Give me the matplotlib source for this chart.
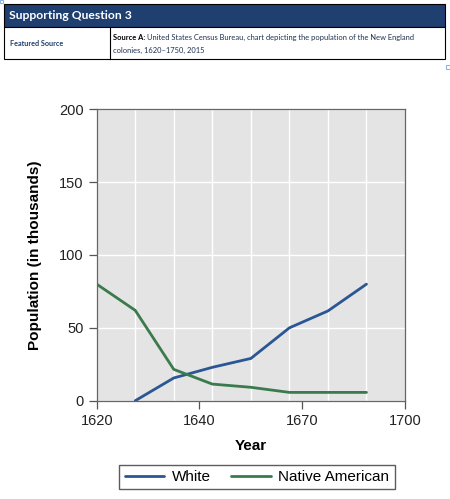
import matplotlib.pyplot as plt
import numpy as np
from matplotlib.patches import Rectangle

# data
years = [1620, 1630, 1640, 1650, 1660, 1670, 1680, 1690]
white = [np.nan, 0, 15.6, 22.9, 29, 50, 61.6, 80]
native = [80, 62, 21.5, 11.4, 9.2, 5.7, 5.7, 5.7]
tick_labels = ['1620', '1640', '1670', '1700']
y_ticks = [0, 50, 100, 150, 200]

header_title = 'Supporting Question 3'
row_label = 'Featured Source'
source_bold = 'Source A:'
source_text_1 = 'United States Census Bureau, chart depicting the population of the New England'
source_text_2 = 'colonies, 1620\u20131750, 2015'

navy = '#1e3f6f'
blue = '#2a5694'
green = '#3b7a4c'

W, H = 450, 499
fig = plt.figure(figsize=(W / 100, H / 100), dpi=100)

# header table drawn in pixel coords on an overlay axes
hdr = fig.add_axes([0, 0, 1, 1])
hdr.set_xlim(0, W)
hdr.set_ylim(H, 0)
hdr.axis('off')
hdr.add_patch(Rectangle((3.5, 3.5), 441.5, 23.5, facecolor=navy, edgecolor='black', lw=0.8))
hdr.add_patch(Rectangle((3.5, 27), 441.5, 31.5, facecolor='white', edgecolor='black', lw=0.8))
hdr.plot([109.5, 109.5], [27, 58.5], color='black', lw=0.8)
hdr.text(9, 15.5, header_title, color='white', fontsize=8.7, fontweight='bold',
         family='Lato', va='center')
hdr.text(10, 43, row_label, color=navy, fontsize=5.2, fontweight='bold', family='Lato', va='center')
fs = 5.4
t = hdr.text(113, 37.5, source_bold, color='black', fontsize=fs, fontweight='bold',
             family='Lato', va='center')
r = fig.canvas.get_renderer()
bb = t.get_window_extent(renderer=r)
hdr.text(113 + bb.width + 2, 37.5, source_text_1, color='#1f3050', fontsize=fs,
         family='Lato', va='center')
hdr.text(113, 50.5, source_text_2, color='#1f3050', fontsize=fs, family='Lato', va='center')
hdr.add_patch(Rectangle((0, 0), 3, 3, facecolor='none', edgecolor='#8fb3e0', lw=0.8))
hdr.add_patch(Rectangle((446, 65), 4, 4, facecolor='none', edgecolor='#8fb3e0', lw=0.8))

ax = fig.add_axes([96.7 / W, 1 - 400.7 / H, (405 - 96.7) / W, (400.7 - 109.3) / H])
ax.set_facecolor('#e4e4e4')
ax.plot(years, white, color=blue, lw=2.0, label='White', solid_capstyle='round')
ax.plot(years, native, color=green, lw=2.0, label='Native American', solid_capstyle='round')

ax.set_xlim(1620, 1700)
ax.set_ylim(0, 200)
ax.set_xticks(np.linspace(1620, 1700, len(tick_labels)))
ax.set_xticklabels(tick_labels)
ax.set_xticks(np.arange(1630, 1700, 10), minor=True)
ax.set_yticks(y_ticks)
ax.tick_params(axis='both', which='major', direction='out', length=6, width=0.9,
               color='#555555', labelsize=10.5, labelcolor='#222222',
               labelfontfamily='Liberation Sans')
ax.tick_params(axis='x', which='minor', length=0)
ax.grid(axis='x', which='minor', color='white', lw=1.0)
ax.grid(axis='y', which='major', color='white', lw=1.0)
ax.set_axisbelow(True)
for s in ax.spines.values():
    s.set_color('#666666')
    s.set_linewidth(0.9)

ax.set_xlabel('Year', fontsize=11, fontweight='bold', family='Liberation Sans', labelpad=8)
ax.set_ylabel('Population (in thousands)', fontsize=11, fontweight='bold',
              family='Liberation Sans', labelpad=12)

fig.legend(loc='center', bbox_to_anchor=(257 / W, 1 - 477 / H), ncol=2, frameon=True,
           fancybox=False, edgecolor='#333333', handlelength=2.6,
           columnspacing=1.3, handletextpad=0.5, borderpad=0.35,
           prop={'family': 'Liberation Sans', 'size': 11})

fig.savefig('out.png', dpi=100)
